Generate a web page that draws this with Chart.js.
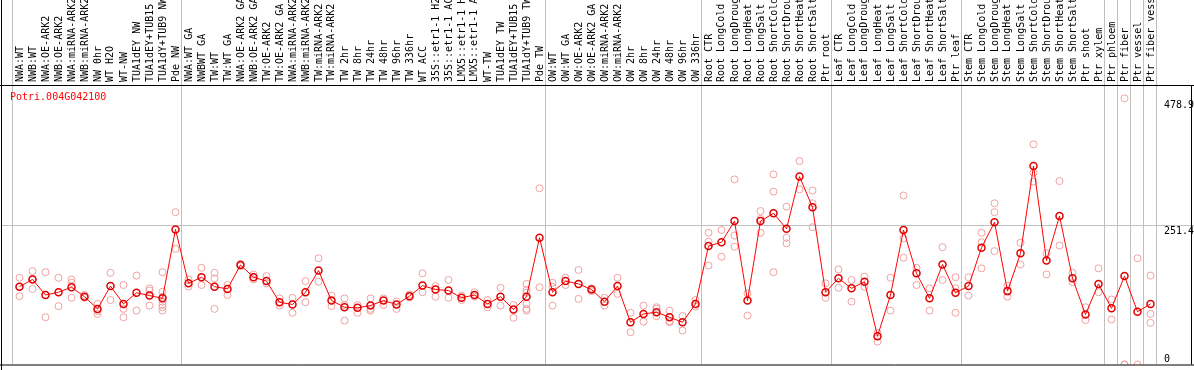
<!DOCTYPE html>
<html>
<head>
<meta charset="utf-8">
<script src="https://cdn.jsdelivr.net/npm/chart.js@4"></script>
<style>
  html, body { margin: 0; padding: 0; background: #fff; }
  canvas { display: block; }
</style>
</head>
<body>
<canvas id="chart" width="1194" height="370"></canvas>
<script>
const GENE = 'Potri.004G042100';

const samples = [
  'NWA:WT', 'NWB:WT', 'NWA:OE-ARK2', 'NWB:OE-ARK2', 'NWA:miRNA-ARK2', 'NWB:miRNA-ARK2',
  'NW 0hr', 'WT H2O', 'WT-NW', 'TUA1dEY NW', 'TUA1dEY+TUB15 NW', 'TUA1dY+TUB9 NW', 'Pde NW',
  'NWA:WT GA', 'NWBWT GA', 'TW:WT', 'TW:WT GA', 'NWA:OE-ARK2 GA', 'NWB:OE-ARK2 GA',
  'TW:OE-ARK2', 'TW:OE-ARK2 GA', 'NWA:miRNA-ARK2', 'NWB:miRNA-ARK2', 'TW:miRNA-ARK2', 'TW:miRNA-ARK2',
  'TW 2hr', 'TW 8hr', 'TW 24hr', 'TW 48hr', 'TW 96hr', 'TW 336hr', 'WT ACC',
  '35S::etr1-1 H2O', '35S::etr1-1 ACC', 'LMX5::etr1-1 H2O', 'LMX5::etr1-1 ACC', 'WT-TW',
  'TUA1dEY TW', 'TUA1dEY+TUB15 TW', 'TUA1dY+TUB9 TW', 'Pde TW',
  'OW:WT', 'OW:WT GA', 'OW:OE-ARK2', 'OW:OE-ARK2 GA', 'OW:miRNA-ARK2', 'OW:miRNA-ARK2',
  'OW 2hr', 'OW 8hr', 'OW 24hr', 'OW 48hr', 'OW 96hr', 'OW 336hr',
  'Root CTR', 'Root LongCold', 'Root LongDrought', 'Root LongHeat', 'Root LongSalt',
  'Root ShortCold', 'Root ShortDrought', 'Root ShortHeat', 'Root ShortSalt', 'Ptr root',
  'Leaf CTR', 'Leaf LongCold', 'Leaf LongDrought', 'Leaf LongHeat', 'Leaf LongSalt',
  'Leaf ShortCold', 'Leaf ShortDrought', 'Leaf ShortHeat', 'Leaf ShortSalt', 'Ptr leaf',
  'Stem CTR', 'Stem LongCold', 'Stem LongDrought', 'Stem LongHeat', 'Stem LongSalt',
  'Stem ShortCold', 'Stem ShortDrought', 'Stem ShortHeat', 'Stem ShortSalt', 'Ptr shoot', 'Ptr xylem',
  'Ptr phloem', 'Ptr fiber', 'Ptr vessel', 'Ptr fiber vessel',
];

// first sample index of each group (last entry closes the final group)
const groupStarts = [0, 13, 41, 53, 63, 73, 84, 85, 86, 87, 88];

const means = [
  140, 153, 125, 130, 139, 122, 100, 141, 109, 129, 124, 119, 243,
  146, 157, 140, 136, 179, 157, 150, 112, 108, 130, 169, 115, 103, 102, 106, 115, 108,
  123, 142, 135, 133, 120, 125, 109, 122, 99, 122, 228,
  130, 150, 145, 135, 113, 141, 76, 91, 94, 85, 76, 109,
  213, 220, 258, 115, 258, 272, 244, 338, 283, 130,
  155, 137, 149, 51, 125, 242, 164, 119, 180, 129,
  141, 210, 256, 132, 200, 357, 187, 267, 155, 90, 145,
  101, 159, 95, 109,
];

const replicates = [
  [156, 140, 123], [168, 154, 136], [166, 85], [156, 105], [153, 147, 120], [125, 120],
  [109, 96, 91], [165, 116], [143, 100, 85], [160, 97], [137, 133, 106],
  [166, 131, 122, 113, 107, 103, 97], [274, 208],
  [153, 140], [174, 143], [165, 155, 100], [143, 125], [181, 177], [162, 153],
  [159, 146], [119, 106], [120, 93], [150, 112], [191, 149], [124, 105],
  [119, 107, 79], [107, 93], [119, 100, 97], [119, 107], [113, 100], [126, 121], [164, 130],
  [141, 122], [152, 120], [124, 116], [130, 122], [116, 103],
  [138, 106], [107, 84], [145, 134, 129, 109, 100, 97], [317, 139],
  [147, 140, 106], [156, 143], [170, 118], [137, 132], [120, 106], [156, 127],
  [93, 58], [106, 77], [103, 100, 87], [97, 78, 76], [87, 61], [116, 104],
  [237, 221, 178], [242, 194], [333, 232, 212], [128, 88], [276, 262, 237],
  [342, 311, 166], [284, 228, 218], [366, 315], [313, 290, 247], [146, 120],
  [171, 138], [152, 113], [158, 140], [57, 41], [156, 97],
  [304, 227, 192], [174, 143], [137, 97], [211, 152], [157, 137, 93],
  [157, 124], [237, 220, 173], [290, 274, 204], [142, 122], [219, 180],
  [396, 345, 329], [200, 162], [330, 214], [165, 148], [103, 80], [173, 130],
  [117, 81], [478.9, 0, 0], [191, 0], [160, 91, 75],
];

const yTicks = [478.9, 251.4, 0];
const gridValue = 251.4;

const FONT = '10px "DejaVu Sans Mono", monospace';
const RED = '#ff0000';
const PINK = '#f0a0a0';
const GRID = '#c0c0c0';

const meanPoints = means.map((v, i) => ({ x: i, y: v }));
const repPoints = replicates.flatMap((vals, i) => vals.map((v) => ({ x: i, y: v })));

const overlay = {
  id: 'overlay',
  beforeDatasetsDraw(chart) {
    const { ctx, chartArea: a, scales: { x, y } } = chart;
    ctx.save();
    ctx.strokeStyle = GRID;
    ctx.lineWidth = 1;
    ctx.beginPath();
    for (const k of groupStarts) {
      const px = Math.round(x.getPixelForValue(k) - 8) + 0.5;
      ctx.moveTo(px, 0);
      ctx.lineTo(px, a.bottom);
    }
    const gy = Math.round(y.getPixelForValue(gridValue)) + 0.5;
    ctx.moveTo(2, gy);
    ctx.lineTo(chart.width, gy);
    ctx.stroke();
    ctx.restore();
  },
  afterDraw(chart) {
    const { ctx, chartArea: a, scales: { x, y } } = chart;
    const W = chart.width;
    ctx.save();
    ctx.font = FONT;

    // sample labels, rotated, reading upwards
    ctx.fillStyle = '#000';
    ctx.textAlign = 'left';
    ctx.textBaseline = 'middle';
    samples.forEach((s, i) => {
      ctx.save();
      ctx.translate(Math.round(x.getPixelForValue(i)), 82);
      ctx.rotate(-Math.PI / 2);
      ctx.fillText(s, 0, 0);
      ctx.restore();
    });

    // gene name
    ctx.fillStyle = RED;
    ctx.textBaseline = 'alphabetic';
    ctx.fillText(GENE, 10, 100);

    // value labels on the right
    ctx.fillStyle = '#000';
    yTicks.forEach((v) => {
      const py = y.getPixelForValue(v);
      if (v === 0) {
        ctx.textBaseline = 'alphabetic';
        ctx.fillText(String(v), 1164, py - 3);
      } else {
        ctx.textBaseline = 'top';
        ctx.fillText(String(v), 1164, py + 2);
      }
    });

    // frame
    ctx.strokeStyle = '#000';
    ctx.lineWidth = 1;
    ctx.beginPath();
    ctx.moveTo(0, a.top - 0.5);
    ctx.lineTo(W, a.top - 0.5);
    ctx.moveTo(1.5, 0);
    ctx.lineTo(1.5, chart.height);
    ctx.moveTo(0, a.bottom + 0.5);
    ctx.lineTo(W, a.bottom + 0.5);
    ctx.moveTo(1191.5, a.top);
    ctx.lineTo(1191.5, a.bottom);
    ctx.stroke();
    ctx.restore();
  },
};

new Chart(document.getElementById('chart'), {
  type: 'line',
  data: {
    datasets: [
      {
        data: meanPoints,
        borderColor: RED,
        borderWidth: 1,
        tension: 0,
        pointRadius: 3.5,
        pointBorderWidth: 1.5,
        pointBorderColor: '#e00000',
        pointBackgroundColor: 'rgba(0,0,0,0)',
      },
      {
        data: repPoints,
        showLine: false,
        pointRadius: 3.5,
        pointBorderWidth: 1,
        pointBorderColor: PINK,
        pointBackgroundColor: 'rgba(0,0,0,0)',
      },
    ],
  },
  options: {
    responsive: false,
    animation: false,
    devicePixelRatio: 1,
    events: [],
    layout: { padding: { left: 13, right: 37, top: 86, bottom: 1 } },
    plugins: { legend: { display: false }, tooltip: { enabled: false } },
    scales: {
      x: { type: 'linear', min: -0.5, max: 87.5, display: false },
      y: { type: 'linear', min: 0, max: 501, display: false },
    },
  },
  plugins: [overlay],
});
</script>
</body>
</html>
